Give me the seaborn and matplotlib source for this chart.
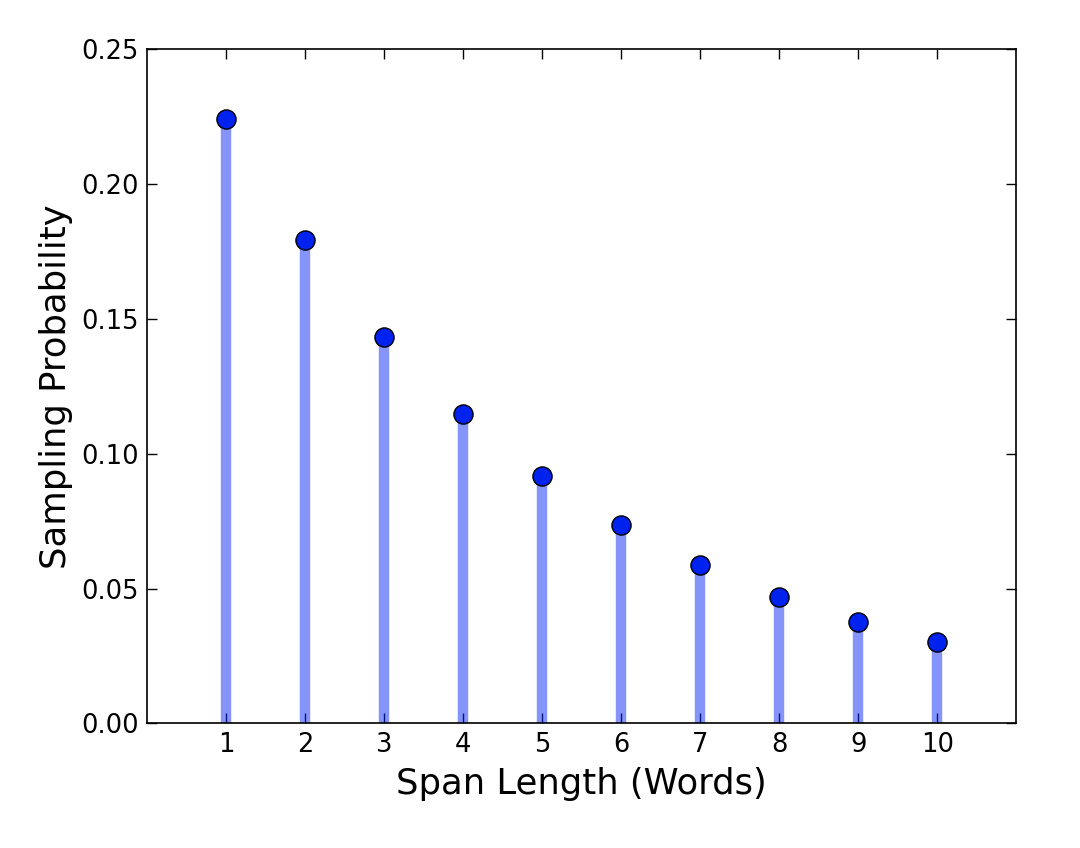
import pandas as pd
import seaborn as sns
import matplotlib.pyplot as plt

# span length vs sampling probability (stem plot)
span_len = [1, 2, 3, 4, 5, 6, 7, 8, 9, 10]
prob = [0.2240, 0.1792, 0.1434, 0.1147, 0.0918, 0.0734, 0.0587, 0.0470, 0.0376, 0.0301]

df = pd.DataFrame({'span': span_len, 'prob': prob})

sns.set_style('white')
plt.rcParams['font.family'] = ['DejaVu Sans']
plt.rcParams['text.color'] = 'black'
plt.rcParams['axes.labelcolor'] = 'black'
plt.rcParams['xtick.color'] = 'black'
plt.rcParams['ytick.color'] = 'black'

fig, ax = plt.subplots(figsize=(10.8, 8.48), dpi=100)
fig.subplots_adjust(left=0.136, right=0.941, top=0.942, bottom=0.147)

# stems
ax.vlines(df['span'], 0, df['prob'], colors='#0a2bf5', alpha=0.5, linewidth=7.5, zorder=2)
# heads
sns.scatterplot(data=df, x='span', y='prob', color='#0022ee', edgecolor='black',
                linewidth=1, s=190, zorder=3, ax=ax)

ax.set_xlim(0, 11)
ax.set_ylim(0, 0.25)
ax.set_xticks(span_len)
ax.set_yticks([0, 0.05, 0.10, 0.15, 0.20, 0.25])
ax.set_yticklabels(['0.00', '0.05', '0.10', '0.15', '0.20', '0.25'])
ax.set_xlabel('Span Length (Words)', fontsize=25.5, labelpad=7)
ax.set_ylabel('Sampling Probability', fontsize=25.5, labelpad=6)

ax.tick_params(direction='in', length=7, width=1, top=True, right=True,
               bottom=True, left=True, labelsize=18.5, pad=6, color='black')
for sp in ax.spines.values():
    sp.set_color('black')
    sp.set_linewidth(1.2)

plt.savefig('out.png', dpi=100)
